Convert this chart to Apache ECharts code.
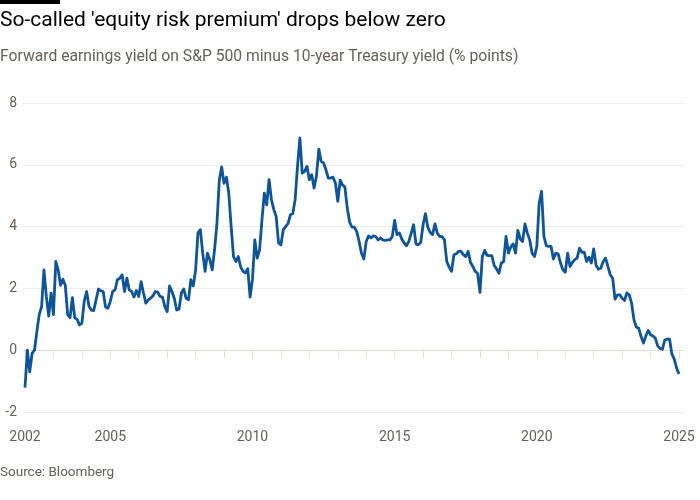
<!DOCTYPE html>
<html>
<head>
<meta charset="utf-8">
<script src="https://cdn.jsdelivr.net/npm/echarts@6/dist/echarts.min.js"></script>
<style>
  html, body { margin: 0; padding: 0; background: #ffffff; }
  #chart { width: 700px; height: 500px; }
</style>
</head>
<body>
<div id="chart"></div>
<script>
// Monthly values, Jan 2002 .. Jan 2025 (% points)
const startYear = 2002;
const values2002_2005 = [
  -1.21, 0.0, -0.7, -0.1, 0.0, 0.6, 1.15, 1.4, 2.6, 1.75, 1.1, 1.85,
  1.15, 2.87, 2.6, 2.1, 2.3, 2.1, 1.15, 1.05, 1.7, 1.05, 1.0, 0.82,
  0.87, 1.58, 1.9, 1.42, 1.3, 1.28, 1.63, 1.98, 1.92, 1.9, 1.4, 1.36
];
const values2005_2010 = [
  1.58, 1.9, 1.95, 2.28, 2.33, 2.44, 1.9, 2.33, 1.95, 1.9, 1.72, 1.93,
  1.74, 2.22, 1.85, 1.52, 1.63, 1.68, 1.76, 1.9, 1.88, 1.74, 1.72, 1.42,
  1.25, 2.08, 1.9, 1.68, 1.3, 1.33, 1.85, 1.98, 1.68, 1.63, 2.28, 2.08,
  2.6, 3.8, 3.9, 3.14, 2.55, 3.14, 2.93, 2.6, 3.25, 4.1, 5.5, 5.93,
  5.4, 5.6, 5.08, 4.0, 3.03, 2.87, 3.03, 2.7, 2.55, 2.5, 2.64, 1.72
];
const values2010_2015 = [
  2.3, 3.57, 2.98, 3.25, 4.22, 5.08, 4.7, 5.52, 4.87, 4.55, 4.33, 3.47,
  3.41, 3.9, 4.0, 4.1, 4.38, 4.42, 4.87, 5.95, 6.87, 5.73, 5.79, 5.95,
  5.52, 5.68, 5.25, 5.63, 6.51, 6.11, 6.06, 5.84, 5.57, 5.57, 5.6, 5.41,
  4.82, 5.5, 5.35, 5.28, 4.6, 4.15, 3.98, 3.98, 3.84, 3.52, 3.14, 2.95,
  3.52, 3.7, 3.63, 3.7, 3.68, 3.57, 3.63, 3.57, 3.55, 3.57, 3.57, 3.68
];
const values2015_2020 = [
  4.2, 3.74, 3.79, 3.6, 3.47, 3.38, 3.52, 3.79, 4.06, 3.44, 3.41, 3.49,
  4.06, 4.42, 3.98, 3.81, 3.74, 4.09, 3.79, 3.68, 3.68, 3.57, 2.87, 2.69,
  2.55, 3.09, 3.12, 3.2, 3.2, 3.09, 3.03, 3.2, 2.84, 2.71, 2.55, 2.49,
  1.87, 3.03, 3.23, 3.07, 3.06, 3.06, 2.74, 2.63, 2.49, 2.82, 2.87, 3.68,
  3.14, 3.34, 3.44, 3.14, 3.88, 3.6, 3.52, 4.09, 3.79, 3.57, 3.14, 3.03
];
const values2020_2025 = [
  3.36, 4.76, 5.14, 3.68, 3.38, 3.36, 3.36, 2.95, 3.14, 3.12, 2.82, 2.6,
  2.52, 3.14, 2.71, 2.84, 2.93, 2.98, 3.3, 3.17, 3.17, 2.87, 3.01, 2.82,
  3.28, 2.75, 2.62, 2.65, 2.87, 2.98, 2.71, 2.44, 2.33, 1.65, 1.79, 1.79,
  1.68, 1.61, 1.85, 1.79, 1.52, 0.98, 0.75, 0.71, 0.44, 0.23, 0.46, 0.64,
  0.5, 0.46, 0.39, 0.14, 0.06, 0.03, 0.33, 0.36, 0.36, -0.12, -0.29, -0.58,
  -0.77
];
const values = [].concat(values2002_2005, values2005_2010, values2010_2015, values2015_2020, values2020_2025);

const labelYears = [2002, 2005, 2010, 2015, 2020, 2025];
const yTicks = [-2, 0, 2, 4, 6, 8];

const seriesData = values.map((v, i) => [startYear + i / 12, v]);

const chart = echarts.init(document.getElementById('chart'), null, { renderer: 'canvas' });
const FONT = 'Roboto, "Noto Sans", sans-serif';
const GREY = '#66605c';

chart.setOption({
  animation: false,
  backgroundColor: '#ffffff',
  textStyle: { fontFamily: FONT },
  graphic: [
    { type: 'rect', left: 0, top: 0, shape: { width: 60, height: 4 }, style: { fill: '#000000' } },
    { type: 'text', x: 0, y: 21, style: { text: "So-called 'equity risk premium' drops below zero", font: '21px ' + FONT, fill: '#000000', textVerticalAlign: 'middle' } },
    { type: 'text', x: 0, y: 57, style: { text: 'Forward earnings yield on S&P 500 minus 10-year Treasury yield (% points)', font: '15.7px ' + FONT, fill: GREY, textVerticalAlign: 'middle' } },
    { type: 'text', x: 0, y: 473, style: { text: 'Source: Bloomberg', font: '13.5px ' + FONT, fill: GREY, textVerticalAlign: 'middle' } }
  ],
  grid: [
    { left: 25, right: 21, top: 103, bottom: 88 },
    { left: 23, right: 16, top: 103, bottom: 88 }
  ],
  xAxis: [
    {
      type: 'value', gridIndex: 0, min: labelYears[0], max: labelYears[labelYears.length - 1], interval: 1,
      axisLine: { show: false },
      axisTick: { show: true, length: 8, lineStyle: { color: '#e6dcd3', width: 1 } },
      splitLine: { show: false },
      axisLabel: {
        margin: 18, color: GREY, fontSize: 14, fontFamily: FONT,
        formatter: v => (labelYears.indexOf(Math.round(v)) >= 0 && Math.abs(v - Math.round(v)) < 1e-6) ? String(Math.round(v)) : ''
      }
    },
    {
      type: 'value', gridIndex: 1, min: 0, max: 1,
      axisLine: { show: true, lineStyle: { color: '#e6dcd3', width: 1 } },
      axisTick: { show: false }, axisLabel: { show: false }, splitLine: { show: false }
    }
  ],
  yAxis: [
    { type: 'value', gridIndex: 0, min: yTicks[0], max: yTicks[yTicks.length - 1], interval: 2, show: false },
    {
      type: 'value', gridIndex: 1, min: yTicks[0], max: yTicks[yTicks.length - 1], interval: 2,
      axisLine: { show: false }, axisTick: { show: false },
      axisLabel: { color: GREY, fontSize: 14, fontFamily: FONT, margin: 6 },
      splitLine: { show: true, lineStyle: { color: '#f0ebe6', width: 1 } }
    }
  ],
  series: [
    {
      type: 'line', xAxisIndex: 0, yAxisIndex: 0, data: seriesData,
      showSymbol: false, symbol: 'none',
      lineStyle: { color: '#0f5499', width: 2.8, join: 'round' },
      z: 5
    }
  ]
});
</script>
</body>
</html>
